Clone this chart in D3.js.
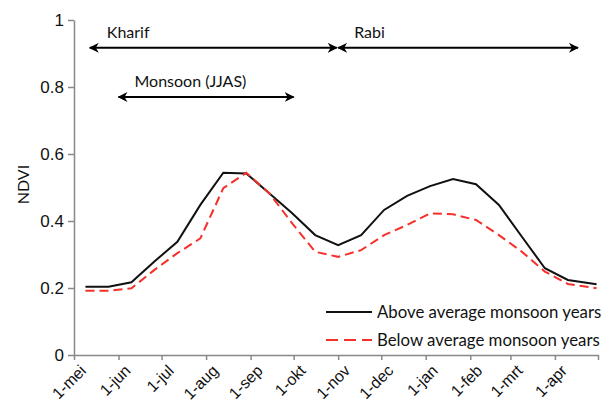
<!DOCTYPE html>
<html>
<head>
<meta charset="utf-8">
<script src="https://cdn.jsdelivr.net/npm/d3@7"></script>
<style>
  body { margin: 0; background: #fff; }
  svg { font-family: Lato, "Open Sans", sans-serif; }
</style>
</head>
<body>
<div id="chart"></div>
<script>
// 16-day composite dates (May to April)
const dates = ["2001-05-09", "2001-05-25", "2001-06-10", "2001-06-26", "2001-07-12", "2001-07-28",
    "2001-08-13", "2001-08-29", "2001-09-14", "2001-09-30", "2001-10-16", "2001-11-01",
    "2001-11-17", "2001-12-03", "2001-12-19", "2002-01-04", "2002-01-20", "2002-02-05",
    "2002-02-21", "2002-03-09", "2002-03-25", "2002-04-10", "2002-04-30"];

const aboveAvg = [0.204, 0.204, 0.217, 0.279, 0.338, 0.448, 0.544, 0.542, 0.483, 0.423, 0.358, 0.328,
    0.358, 0.433, 0.475, 0.504, 0.525, 0.510, 0.448, 0.353, 0.259, 0.224, 0.211];

const belowAvg = [0.192, 0.192, 0.199, 0.254, 0.304, 0.348, 0.498, 0.544, 0.483, 0.393, 0.308, 0.293,
    0.313, 0.358, 0.388, 0.423, 0.420, 0.403, 0.358, 0.308, 0.249, 0.212, 0.199];

const monthTicks = ["2001-05-01", "2001-06-01", "2001-07-01", "2001-08-01", "2001-09-01", "2001-10-01",
    "2001-11-01", "2001-12-01", "2002-01-01", "2002-02-01", "2002-03-01", "2002-04-01", "2002-05-01"];
const monthLabels = ["1-mei", "1-jun", "1-jul", "1-aug", "1-sep", "1-okt", "1-nov", "1-dec",
    "1-jan", "1-feb", "1-mrt", "1-apr", ""];

const yTicks = [0, 0.2, 0.4, 0.6, 0.8, 1];

// season arrows: [label, start, end, level]
const seasons = [
    ["Kharif", "2001-05-12", "2001-10-31", 0.917],
    ["Rabi", "2001-11-01", "2002-04-17", 0.917],
    ["Monsoon (JJAS)", "2001-06-01", "2001-10-01", 0.77]
];

const parse = d3.timeParse("%Y-%m-%d");

var margin = { top: 20, right: 11, bottom: 50, left: 74 },
    width = 609 - margin.left - margin.right,
    height = 405 - margin.top - margin.bottom;

var svg = d3.select("#chart")
    .append("svg")
    .attr("width", 609)
    .attr("height", 405)
    .append("g")
    .attr("transform", "translate(" + margin.left + "," + margin.top + ")");

var defs = svg.append("defs");
defs.append("marker")
    .attr("id", "head")
    .attr("viewBox", "0 0 10 10")
    .attr("refX", 9)
    .attr("refY", 5)
    .attr("markerWidth", 10)
    .attr("markerHeight", 10)
    .attr("markerUnits", "userSpaceOnUse")
    .attr("orient", "auto-start-reverse")
    .append("path")
    .attr("d", "M0,0 L10,5 L0,10 L3,5 Z")
    .attr("fill", "#000");

var x = d3.scaleTime()
    .domain([parse("2001-05-01"), parse("2002-05-01")])
    .range([0, width]);

var y = d3.scaleLinear()
    .domain([0, 1])
    .range([height, 0]);

// X axis
var xAxis = svg.append("g")
    .attr("transform", "translate(0," + height + ")")
    .call(d3.axisBottom(x)
        .tickValues(monthTicks.map(parse))
        .tickFormat((d, i) => monthLabels[i])
        .tickSize(5)
        .tickSizeOuter(0));
xAxis.select(".domain").attr("stroke", "#888").attr("stroke-width", 1.5);
xAxis.selectAll(".tick line").attr("stroke", "#888").attr("stroke-width", 1.5);
xAxis.selectAll(".tick text")
    .attr("font-size", 16)
    .attr("fill", "#111")
    .attr("text-anchor", "end")
    .attr("dy", "0.35em")
    .attr("transform", "translate(3,7) rotate(-45)");

// Y axis
var yAxis = svg.append("g")
    .call(d3.axisLeft(y)
        .tickValues(yTicks)
        .tickFormat(d3.format("~g"))
        .tickSize(6)
        .tickSizeOuter(0));
yAxis.select(".domain").attr("stroke", "#888").attr("stroke-width", 1.5);
yAxis.selectAll(".tick text")
    .attr("font-size", 17)
    .attr("fill", "#111")
    .attr("x", -10);
yAxis.selectAll(".tick line").attr("stroke", "#888").attr("stroke-width", 1.5);

svg.append("text")
    .attr("transform", "translate(-45," + (height / 2 - 3) + ") rotate(-90)")
    .attr("text-anchor", "middle")
    .attr("font-size", 16)
    .attr("fill", "#111")
    .text("NDVI");

// lines
const line = d3.line()
    .x(d => x(d.date))
    .y(d => y(d.value));

const aboveData = dates.map((d, i) => ({ date: parse(d), value: aboveAvg[i] }));
const belowData = dates.map((d, i) => ({ date: parse(d), value: belowAvg[i] }));

svg.append("path")
    .datum(aboveData)
    .attr("fill", "none")
    .attr("stroke", "#111")
    .attr("stroke-width", 2)
    .attr("d", line);

svg.append("path")
    .datum(belowData)
    .attr("fill", "none")
    .attr("stroke", "#f5302a")
    .attr("stroke-width", 2)
    .attr("stroke-dasharray", "9,5")
    .attr("d", line);

// season arrows
seasons.forEach(s => {
    svg.append("line")
        .attr("x1", x(parse(s[1])))
        .attr("x2", x(parse(s[2])))
        .attr("y1", y(s[3]))
        .attr("y2", y(s[3]))
        .attr("stroke", "#000")
        .attr("stroke-width", 2)
        .attr("marker-start", "url(#head)")
        .attr("marker-end", "url(#head)");
    svg.append("text")
        .attr("x", x(parse(s[1])) + (s[0] == "Kharif" ? 17 : 16))
        .attr("y", y(s[3]) - 10)
        .attr("font-size", 16)
        .attr("fill", "#111")
        .text(s[0]);
});

// legend
const legend = [
    { name: "Above average monsoon years", color: "#111", dash: null },
    { name: "Below average monsoon years", color: "#f5302a", dash: "12,6" }
];
var lg = svg.append("g")
    .attr("transform", "translate(" + (326 - margin.left) + "," + (312 - margin.top) + ")");
legend.forEach((l, i) => {
    lg.append("line")
        .attr("x1", 0)
        .attr("x2", 46)
        .attr("y1", i * 28)
        .attr("y2", i * 28)
        .attr("stroke", l.color)
        .attr("stroke-width", 2)
        .attr("stroke-dasharray", l.dash);
    lg.append("text")
        .attr("x", 51)
        .attr("y", i * 28)
        .attr("dy", "0.35em")
        .attr("font-size", 16.8)
        .attr("fill", "#111")
        .text(l.name);
});
</script>
</body>
</html>
